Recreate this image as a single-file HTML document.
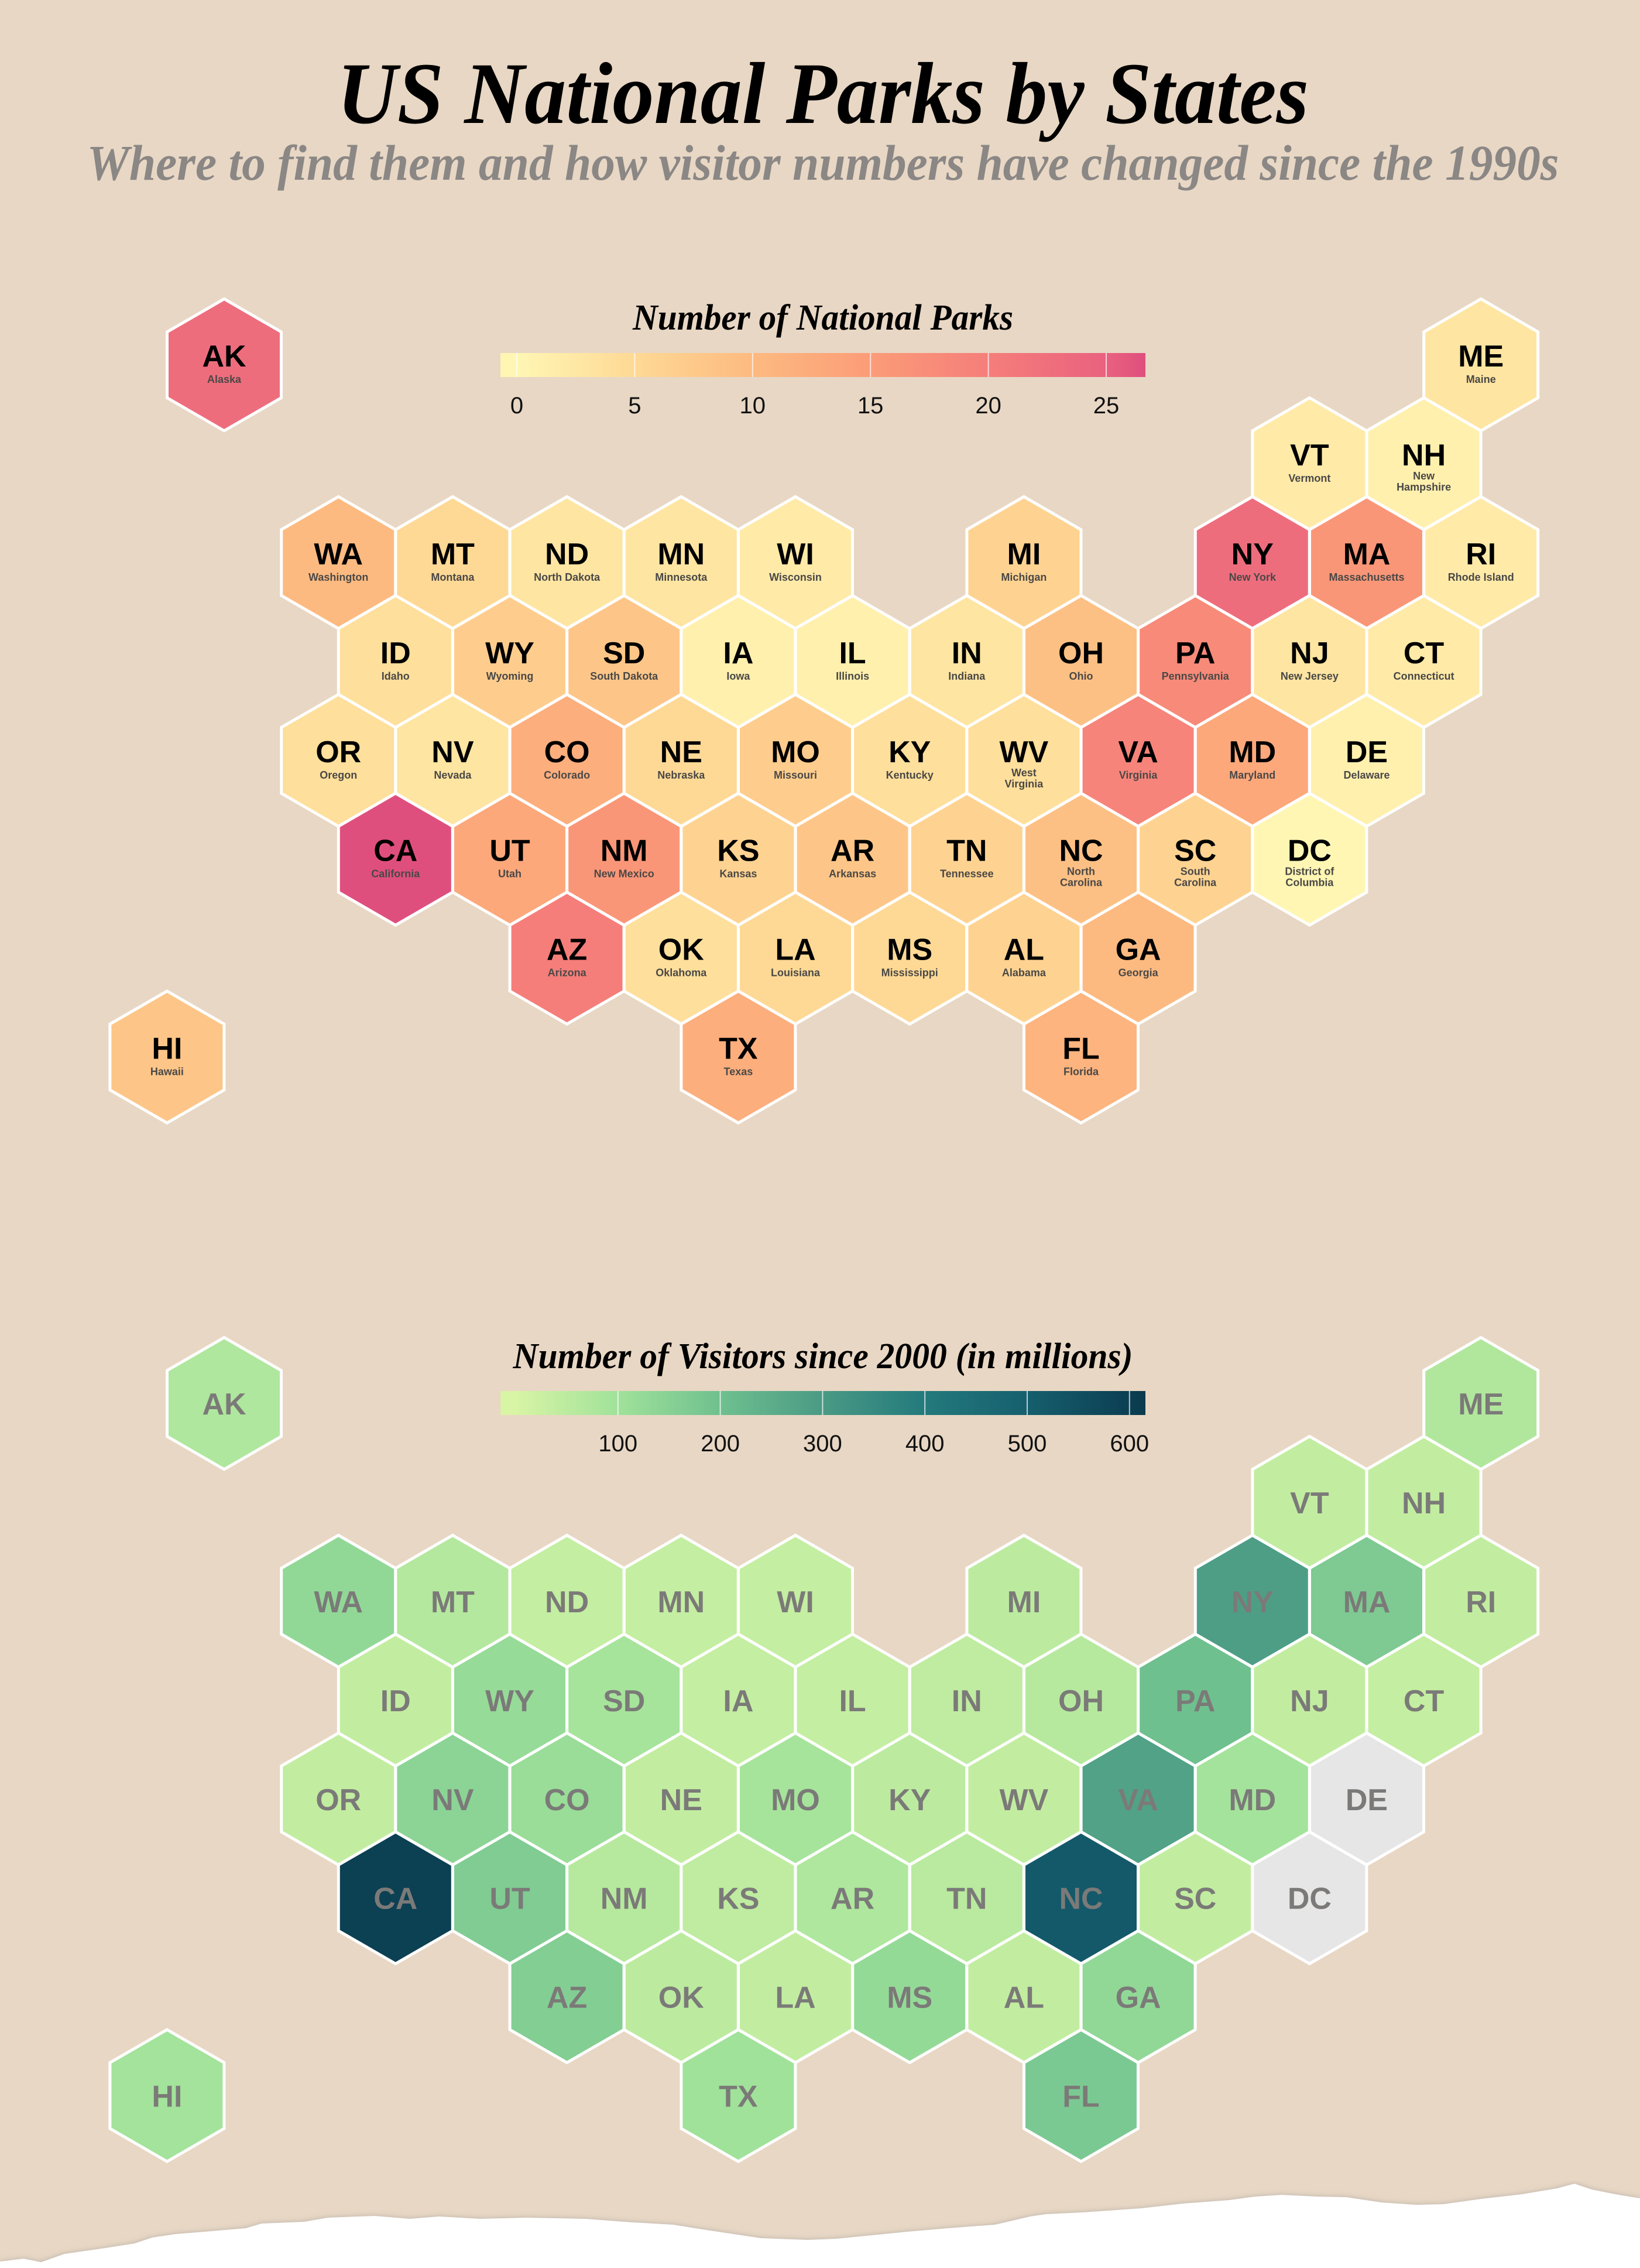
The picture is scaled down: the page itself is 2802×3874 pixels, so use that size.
<!DOCTYPE html>
<html><head><meta charset="utf-8"><style>
html,body{margin:0;padding:0;background:#e8d7c4;}
svg{display:block;}
</style></head><body>
<svg id="chart" width="2802" height="3874" viewBox="0 0 2802 3874" xmlns="http://www.w3.org/2000/svg">
<defs>
<linearGradient id="parksGrad" x1="0" x2="1" y1="0" y2="0"></linearGradient>
<linearGradient id="visGrad" x1="0" x2="1" y1="0" y2="0"></linearGradient>
<filter id="blur"><feGaussianBlur stdDeviation="6"/></filter>
</defs>
<rect x="0" y="0" width="2802" height="3874" fill="#e8d7c4"/>
<text x="1406" y="210" text-anchor="middle" textLength="1660" lengthAdjust="spacingAndGlyphs" font-family="Liberation Serif, serif" font-style="italic" font-weight="bold" font-size="150" fill="#000">US National Parks by States</text>
<text x="1406" y="307" text-anchor="middle" textLength="2515" lengthAdjust="spacingAndGlyphs" font-family="Liberation Serif, serif" font-style="italic" font-weight="bold" font-size="86" fill="#8a8785">Where to find them and how visitor numbers have changed since the 1990s</text>
<g id="map1"></g>
<g id="map2"></g>
<g id="leg1"></g>
<g id="leg2"></g>
<g id="tear"></g>
</svg>
<script>
const states = ["AK","ME","VT","NH","WA","MT","ND","MN","WI","MI","NY","MA","RI","ID","WY","SD","IA","IL","IN","OH","PA","NJ","CT","OR","NV","CO","NE","MO","KY","WV","VA","MD","DE","CA","UT","NM","KS","AR","TN","NC","SC","DC","AZ","OK","LA","MS","AL","GA","TX","FL","HI"];
const stateNames = ["Alaska","Maine","Vermont","New|Hampshire","Washington","Montana","North Dakota","Minnesota","Wisconsin","Michigan","New York","Massachusetts","Rhode Island","Idaho","Wyoming","South Dakota","Iowa","Illinois","Indiana","Ohio","Pennsylvania","New Jersey","Connecticut","Oregon","Nevada","Colorado","Nebraska","Missouri","Kentucky","West|Virginia","Virginia","Maryland","Delaware","California","Utah","New Mexico","Kansas","Arkansas","Tennessee","North|Carolina","South|Carolina","District of|Columbia","Arizona","Oklahoma","Louisiana","Mississippi","Alabama","Georgia","Texas","Florida","Hawaii"];
const parkCounts = [23,3,2,1,10,5,3,3,2,6,23,16,2,4,7,8,1,1,3,9,18,3,2,4,3,12,5,7,4,4,19,13,1,27,13,16,6,8,6,9,6,0,20,4,5,5,6,10,12,11,8];
const visitorCounts = [75,70,40,40,130,65,35,35,35,50,290,170,40,40,120,90,35,35,45,60,200,40,35,40,140,115,40,90,50,40,280,92,null,600,165,60,45,75,55,520,40,null,160,50,40,125,40,130,100,175,95];
const gridCol = [-1,10,8,9,0,1,2,3,4,6,8,9,10,0,1,2,3,4,5,6,7,8,9,0,1,2,3,4,5,6,7,8,9,0,1,2,3,4,5,6,7,8,2,3,4,5,6,7,3,6,-2];
const gridRow = [-2,-2,-1,-1,0,0,0,0,0,0,0,0,0,1,1,1,1,1,1,1,1,1,1,2,2,2,2,2,2,2,2,2,2,3,3,3,3,3,3,3,3,3,4,4,4,4,4,4,5,5,5];
const parkTicks = [0,5,10,15,20,25];
const visitorTicks = [100,200,300,400,500,600];
const parkStops = [[0,"#fff6b4"],[5,"#fed995"],[10,"#fdba80"],[15,"#fb9c78"],[20,"#f57e7a"],[25,"#e9617f"],[27,"#df4f7e"]];
const visitorStops = [[0,"#d8f4a5"],[100,"#a0e29a"],[200,"#6fc08f"],[300,"#4a9a85"],[400,"#237a7c"],[500,"#165f6e"],[620,"#0a3a4e"]];

const NS="http://www.w3.org/2000/svg";
function mk(tag, attrs, parent){const e=document.createElementNS(NS,tag);for(const k in attrs)e.setAttribute(k,attrs[k]);if(parent)parent.appendChild(e);return e;}
function hex2rgb(h){return [1,3,5].map(i=>parseInt(h.substr(i,2),16));}
function cmap(stops,v){
  if(v<=stops[0][0])return stops[0][1];
  for(let i=1;i<stops.length;i++){if(v<=stops[i][0]){const t=(v-stops[i-1][0])/(stops[i][0]-stops[i-1][0]);const a=hex2rgb(stops[i-1][1]),b=hex2rgb(stops[i][1]);return "rgb("+a.map((x,j)=>Math.round(x+(b[j]-x)*t)).join(",")+")";}}
  return stops[stops.length-1][1];
}
const X0=578.2, DX=195.2, Y0=961, DY=168.9, R=112.6;
function hx(c,r){return X0+DX*c+(Math.abs(r)%2?DX/2:0);}
function hy(r){return Y0+DY*r;}
function hexPts(cx,cy){let p=[];for(let k=0;k<6;k++){const a=(-90+60*k)*Math.PI/180;p.push((cx+R*Math.cos(a)).toFixed(1)+","+(cy+R*Math.sin(a)).toFixed(1));}return p.join(" ");}

function drawMap(gid, off, values, stops, withNames){
  const g=document.getElementById(gid);
  states.forEach((s,i)=>{
    const cx=hx(gridCol[i],gridRow[i]), cy=hy(gridRow[i])+off;
    const cell=mk("g",{},g);
    
    
    const v=values[i];
    mk("polygon",{points:hexPts(cx,cy),fill:v==null?"#e6e6e6":cmap(stops,v),stroke:"#ffffff","stroke-width":5,"stroke-linejoin":"miter"},cell);
    if(withNames){
      mk("text",{x:cx,y:cy+3,"text-anchor":"middle","font-family":"Liberation Sans, sans-serif","font-weight":"bold","font-size":52,fill:"#000"},cell).textContent=s;
      const lines=stateNames[i].split("|");
      const base=lines.length>1?cy+27:cy+31;
      lines.forEach((ln,j)=>{mk("text",{x:cx,y:base+j*19,"text-anchor":"middle","font-family":"Liberation Sans, sans-serif","font-weight":"bold","font-size":18,fill:"#4a4846"},cell).textContent=ln;});
    } else {
      mk("text",{x:cx,y:cy+19,"text-anchor":"middle","font-family":"Liberation Sans, sans-serif","font-weight":"bold","font-size":52,fill:"#7b7a78"},cell).textContent=s;
    }
  });
}
drawMap("map1",0,parkCounts,parkStops,true);
drawMap("map2",1774,visitorCounts,visitorStops,false);

function drawLegend(gid,gradId,stops,ticks,vmax,title,titleLen,titleY,barY,x0px,unitPx){
  const g=document.getElementById(gid);
  const grad=document.getElementById(gradId);
  const x1=855,x2=1957;
  stops.forEach(s=>{const px=x0px+s[0]*unitPx;mk("stop",{offset:Math.max(0,Math.min(1,(px-x1)/(x2-x1))),"stop-color":s[1]},grad);});
  const t=mk("text",{x:1406,y:titleY,"text-anchor":"middle",textLength:titleLen,lengthAdjust:"spacingAndGlyphs","font-family":"Liberation Serif, serif","font-style":"italic","font-weight":"bold","font-size":62,fill:"#000"},g);
  t.textContent=title;
  
  
  const bar=mk("rect",{x:x1,y:barY,width:x2-x1,height:41,fill:"url(#"+gradId+")"},g);
  
  
  ticks.forEach(v=>{
    const px=x0px+v*unitPx;
    mk("line",{x1:px,x2:px,y1:barY,y2:barY+41,stroke:"#ffffff","stroke-opacity":0.7,"stroke-width":2},g);
    const lab=mk("text",{x:px,y:barY+103,"text-anchor":"middle","font-family":"Liberation Sans, sans-serif","font-size":40,fill:"#111"},g);
    lab.textContent=v;
    
    
  });
}
drawLegend("leg1","parksGrad",parkStops,parkTicks,27,"Number of National Parks",650,563,603,883,40.28);
drawLegend("leg2","visGrad",visitorStops,visitorTicks,620,"Number of Visitors since 2000  (in millions)",1059,2337,2376,881,1.748);

const edge=[[0,3863],[40,3858],[70,3864],[110,3850],[179,3840],[230,3832],[260,3822],[300,3816],[350,3812],[420,3806],[447,3798],[520,3795],[560,3788],[640,3785],[700,3790],[750,3786],[820,3790],[900,3788],[1000,3790],[1080,3796],[1150,3800],[1200,3808],[1260,3817],[1300,3823],[1380,3826],[1430,3824],[1490,3818],[1550,3812],[1620,3806],[1700,3800],[1760,3786],[1787,3782],[1850,3779],[1950,3772],[2020,3764],[2100,3758],[2144,3752],[2190,3749],[2250,3752],[2300,3753],[2360,3762],[2420,3766],[2466,3765],[2530,3756],[2600,3748],[2660,3738],[2690,3730],[2720,3740],[2760,3748],[2802,3755]];
const tg=document.getElementById("tear");
const ptsStr=edge.map(p=>p.join(",")).join(" ");
mk("polyline",{points:edge.map(p=>p[0]+","+(p[1]+8)).join(" "),fill:"none",stroke:"#9a9a9a","stroke-width":10,filter:"url(#blur)"},tg);
mk("polygon",{points:ptsStr+" 2802,3874 0,3874",fill:"#ffffff"},tg);
mk("polygon",{points:edge.map(p=>p[0]+","+(p[1]+14)).join(" ")+" 2802,3874 0,3874",fill:"#ffffff"},tg);
</script>
</body></html>
